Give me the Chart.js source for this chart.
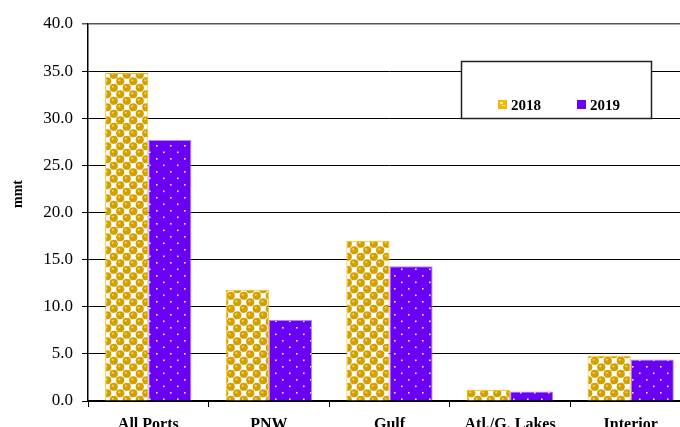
<!DOCTYPE html>
<html>
<head>
<meta charset="utf-8">
<script src="https://cdn.jsdelivr.net/npm/chart.js@4/dist/chart.umd.min.js"></script>
<style>
html,body{margin:0;padding:0;background:#fff;overflow:hidden;}
#wrap{width:680px;height:427px;overflow:hidden;position:relative;}
canvas{display:block;}
</style>
</head>
<body>
<div id="wrap"><canvas id="c" width="692" height="440"></canvas></div>
<script>
const categories = ["All Ports", "PNW", "Gulf", "Atl./G. Lakes", "Interior"];
const seriesLabels = ["2018", "2019"];
const values2018 = [34.8, 11.8, 17.0, 1.2, 4.8];
const values2019 = [27.7, 8.6, 14.3, 1.0, 4.4];
const yTicks = [0, 5, 10, 15, 20, 25, 30, 35, 40];
const yTitle = "mmt";

function goldPattern(ctx) {
  const t = document.createElement('canvas');
  t.width = 13; t.height = 13;
  const g = t.getContext('2d');
  g.fillStyle = '#fff'; g.fillRect(0, 0, 13, 13);
  const pts = [[3.25,3.25],[9.75,9.75],[-3.25,9.75],[16.25,3.25],[9.75,-3.25],[3.25,16.25]];
  pts.forEach(([x,y]) => {
    g.fillStyle = '#d2a000';
    g.beginPath(); g.arc(x, y, 4.1, 0, Math.PI*2); g.fill();
    g.fillStyle = '#f2d66a';
    g.beginPath(); g.arc(x-1, y-1, 1.1, 0, Math.PI*2); g.fill();
  });
  return ctx.createPattern(t, 'repeat');
}
function purplePattern(ctx) {
  const t = document.createElement('canvas');
  t.width = 14; t.height = 13;
  const g = t.getContext('2d');
  g.fillStyle = '#6a00f4'; g.fillRect(0, 0, 14, 13);
  g.fillStyle = '#f0e8ff';
  g.fillRect(2, 2, 1.6, 1.6);
  g.fillRect(9, 8.5, 1.6, 1.6);
  return ctx.createPattern(t, 'repeat');
}

const canvas = document.getElementById('c');
const ctx = canvas.getContext('2d');
const pGold = goldPattern(ctx);
const pPurple = purplePattern(ctx);

const extras = {
  id: 'extras',
  afterDraw(chart) {
    const c = chart.ctx;
    c.save();
    c.translate(18, 194);
    c.rotate(-Math.PI / 2);
    c.font = 'bold 14px "Liberation Serif"';
    c.fillStyle = '#000';
    c.textAlign = 'center';
    c.textBaseline = 'middle';
    c.fillText(yTitle, 0, 0);
    c.restore();

    c.save();
    c.fillStyle = '#fff';
    c.fillRect(461, 61, 190, 57);
    c.strokeStyle = '#222'; c.lineWidth = 1.5;
    c.strokeRect(461.5, 61.5, 190, 57);
    const items = [
      {x: 498, fill: '#f5b800', label: seriesLabels[0], gold: true},
      {x: 577, fill: '#6a00f4', label: seriesLabels[1]}
    ];
    c.font = 'bold 15px "Liberation Serif"';
    c.textBaseline = 'middle';
    items.forEach(it => {
      c.fillStyle = it.fill;
      c.fillRect(it.x, 100, 9, 9);
      if (it.gold) {
        c.fillStyle = '#fff3b0';
        c.fillRect(it.x + 2, 102, 3, 2);
        c.fillRect(it.x + 4, 105, 3, 1);
      }
      c.fillStyle = '#000';
      c.fillText(it.label, it.x + 13, 106);
    });
    c.restore();
  }
};

new Chart(canvas, {
  type: 'bar',
  data: {
    labels: categories,
    datasets: [
      {label: seriesLabels[0], data: values2018, backgroundColor: pGold, borderColor: '#f5b800', borderWidth: 1, borderSkipped: 'bottom', categoryPercentage: 0.715, barPercentage: 1.0},
      {label: seriesLabels[1], data: values2019, backgroundColor: pPurple, borderColor: '#a88de0', borderWidth: 1, borderSkipped: 'bottom', categoryPercentage: 0.715, barPercentage: 1.0}
    ]
  },
  options: {
    responsive: false,
    devicePixelRatio: 1,
    animation: false,
    layout: {padding: {top: 24, right: 1, left: 0, bottom: 0}},
    plugins: {legend: {display: false}, tooltip: {enabled: false}},
    scales: {
      x: {
        grid: {display: true, drawOnChartArea: false, drawTicks: true, tickLength: 6, color: '#000', offset: true},
        border: {color: '#000', width: 1.5},
        ticks: {color: '#000', padding: 8, font: {family: '"Liberation Serif"', size: 16, weight: 'bold'}, maxRotation: 0},
        afterFit(scale) { scale.height = 39; }
      },
      y: {
        min: 0, max: 40,
        afterBuildTicks(scale) { scale.ticks = yTicks.map(v => ({value: v})); },
        grid: {color: (c) => c.tick && c.tick.value === 40 ? '#555' : '#000', lineWidth: (c) => c.tick && c.tick.value === 40 ? 1.5 : 1, tickLength: 6},
        border: {color: '#000', width: 1.5},
        ticks: {color: '#000', padding: 9, font: {family: '"Liberation Serif"', size: 17}, callback: (v) => Number(v).toFixed(1)},
        afterFit(scale) { scale.width = 88; }
      }
    }
  },
  plugins: [extras]
});
</script>
</body>
</html>
